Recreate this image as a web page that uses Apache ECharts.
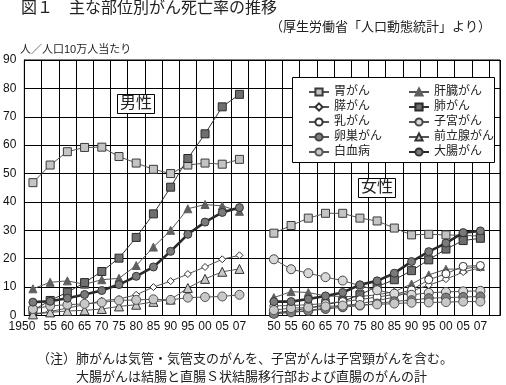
<!DOCTYPE html>
<html><head><meta charset="utf-8">
<script src="https://cdn.jsdelivr.net/npm/echarts@6/dist/echarts.min.js"></script>
<style>html,body{margin:0;padding:0;background:#fff}#c{width:506px;height:385px}</style>
</head><body><div id="c"></div>
<script>
// ---- data ----
const maleYears = ['1950','55','60','65','70','75','80','85','90','95','00','05','07'];
const femaleYears = ['50','55','60','65','70','75','80','85','90','95','00','05','07'];
const yMin = 0, yMax = 90, yStep = 10;

const maleStomach    = [46.8,53.0,57.7,59.2,59.3,56.0,53.7,51.5,50.0,53.0,53.7,53.3,55.0];
const maleLiver      = [9.4,11.7,12.2,11.0,12.6,13.1,17.6,24.1,30.0,37.6,39.1,38.6,36.7];
const malePancreas   = [0.5,1.4,2.6,3.8,5.2,5.8,7.3,10.0,12.1,14.6,17.1,19.8,21.2];
const maleLung       = [1.8,5.3,8.2,11.6,15.5,20.2,27.5,35.8,45.2,55.3,64.0,73.5,77.9];
const maleProstate   = [0.4,1.1,1.6,1.8,2.3,3.2,3.8,4.8,5.6,9.7,12.9,15.4,16.4];
const maleLeukemia   = [2.3,3.4,3.8,4.1,4.6,5.3,5.5,5.7,5.5,6.3,6.5,6.7,7.3];
const maleColorectal = [4.7,5.0,6.1,7.4,8.8,10.9,13.8,17.1,22.6,28.6,32.9,36.3,38.0];

const femaleStomach    = [29.0,31.7,34.3,36.0,36.0,34.3,33.3,30.8,28.4,28.6,28.4,28.2,28.0];
const femaleLiver      = [6.3,8.4,8.1,6.9,6.7,6.7,7.3,8.4,11.1,14.3,16.3,16.4,17.3];
const femalePancreas   = [0.6,1.2,1.8,2.6,3.4,4.2,5.2,6.5,8.6,10.7,12.8,15.3,16.8];
const femaleLung       = [0.9,1.6,2.6,3.8,5.0,7.3,10.2,12.6,15.8,19.6,23.4,26.4,27.2];
const femaleBreast     = [3.4,3.5,3.8,4.2,4.9,5.6,6.5,7.4,9.0,12.6,14.7,17.3,17.6];
const femaleUterus     = [19.8,16.3,14.9,13.5,12.3,10.5,8.9,7.7,7.3,8.0,8.3,8.5,8.7];
const femaleOvary      = [0.6,1.1,1.6,2.3,2.9,3.5,4.2,5.0,5.4,6.1,6.3,6.5,6.7];
const femaleLeukemia   = [1.9,2.6,2.8,3.2,3.5,3.7,3.9,4.2,4.5,4.6,4.7,4.9,4.9];
const femaleColorectal = [4.9,4.9,5.8,6.9,8.1,10.8,12.2,14.9,19.0,22.5,25.5,29.2,29.8];

const none = null;

// ---- build ----
const FONT = "'Liberation Sans','Noto Sans CJK JP',sans-serif";
const nMale = maleYears.length;
const femaleOffset = nMale + 1;
const nTotal = femaleOffset + femaleYears.length;
const xMax = 27.64; // plot extends a little beyond the last band

function build(m, f) {
  const out = [];
  for (let i = 0; i < nMale; i++) out.push([i + 0.5, m ? m[i] : '-']);
  out.push([nMale + 0.5, '-']);
  for (let i = 0; i < femaleYears.length; i++) out.push([femaleOffset + i + 0.5, f ? f[i] : '-']);
  return out;
}

const defs = [
  {name:'胃がん', m:maleStomach, f:femaleStomach, symbol:'rect', size:8, fill:'#c4c4c4', border:'#3a3a3a', line:'#555', lw:1},
  {name:'肝臓がん', m:maleLiver, f:femaleLiver, symbol:'triangle', size:8, fill:'#5f5f5f', border:'#5f5f5f', line:'#555', lw:1},
  {name:'膵がん', m:malePancreas, f:femalePancreas, symbol:'diamond', size:7, fill:'#ffffff', border:'#333', line:'#555', lw:1},
  {name:'肺がん', m:maleLung, f:femaleLung, symbol:'rect', size:8, fill:'#6e6e6e', border:'#2a2a2a', line:'#333', lw:1},
  {name:'乳がん', m:none, f:femaleBreast, symbol:'circle', size:8, fill:'#ffffff', border:'#333', line:'#555', lw:1},
  {name:'子宮がん', m:none, f:femaleUterus, symbol:'circle', size:9, fill:'#d8d8d8', border:'#444', line:'#555', lw:1},
  {name:'卵巣がん', m:none, f:femaleOvary, symbol:'circle', size:9, fill:'#7f7f7f', border:'#444', line:'#555', lw:1},
  {name:'前立腺がん', m:maleProstate, f:none, symbol:'triangle', size:9, fill:'#c8c8c8', border:'#333', line:'#555', lw:1},
  {name:'白血病', m:maleLeukemia, f:femaleLeukemia, symbol:'circle', size:9, fill:'#c8c8c8', border:'#555', line:'#555', lw:1},
  {name:'大腸がん', m:maleColorectal, f:femaleColorectal, symbol:'circle', size:8, fill:'#7a7a7a', border:'#333', line:'#2a2a2a', lw:2.6}
];

const series = defs.map(d => ({
  name: d.name, type: 'line', xAxisIndex: 0, data: build(d.m, d.f),
  symbol: d.symbol, symbolSize: d.size, showSymbol: true, connectNulls: false,
  lineStyle: {color: d.line, width: d.lw},
  itemStyle: {color: d.fill, borderColor: d.border, borderWidth: 1},
  emphasis: {disabled: true}, z: d.name === '大腸がん' ? 3 : 2
}));

const labelPos = [];
for (let i = 0; i < nMale; i++) labelPos.push(i + 0.5);
for (let i = 0; i < femaleYears.length; i++) labelPos.push(femaleOffset + i + 0.5);

const legendText = {fontFamily: FONT, fontSize: 12, color: '#222'};

const option = {
  animation: false,
  backgroundColor: '#fff',
  title: [
    {text:'図１　主な部位別がん死亡率の推移', left:21, top:1, padding:0, textStyle:{fontFamily:FONT, fontSize:16, fontWeight:'normal', color:'#222'}},
    {text:'（厚生労働省「人口動態統計」より）', left:270, top:21, padding:0, textStyle:{fontFamily:FONT, fontSize:13, fontWeight:'normal', color:'#222'}},
    {text:'人／人口10万人当たり', left:20, top:44, padding:0, textStyle:{fontFamily:FONT, fontSize:11, fontWeight:'normal', color:'#222'}},
    {text:'男性', left:117, top:94, padding:[1,3], borderWidth:1, borderColor:'#000', backgroundColor:'#fff', textStyle:{fontFamily:FONT, fontSize:16, fontWeight:'normal', color:'#222', lineHeight:18}},
    {text:'女性', left:358, top:178, padding:[1,3], borderWidth:1, borderColor:'#000', backgroundColor:'#fff', textStyle:{fontFamily:FONT, fontSize:16, fontWeight:'normal', color:'#222', lineHeight:18}},
    {text:'（注）肺がんは気管・気管支のがんを、子宮がんは子宮頸がんを含む。', left:37, top:353, padding:0, textStyle:{fontFamily:FONT, fontSize:13, fontWeight:'normal', color:'#222'}},
    {text:'大腸がんは結腸と直腸Ｓ状結腸移行部および直腸のがんの計', left:76, top:371, padding:0, textStyle:{fontFamily:FONT, fontSize:13, fontWeight:'normal', color:'#222'}}
  ],
  graphic: [
    {type:'rect', left:292, top:77, z:3, shape:{x:0.5, y:0.5, width:202, height:85}, style:{fill:'#fff', stroke:'#000', lineWidth:1}}
  ],
  legend: [
    {orient:'vertical', left:303, top:81, itemGap:3, itemWidth:20, itemHeight:9, textStyle:legendText,
     data:['胃がん','膵がん','乳がん','卵巣がん','白血病'], selectedMode:false},
    {orient:'vertical', left:403, top:81, itemGap:3, itemWidth:20, itemHeight:9, textStyle:legendText,
     data:['肝臓がん','肺がん','子宮がん','前立腺がん','大腸がん'], selectedMode:false}
  ],
  grid: {left:23, right:6, top:60, bottom:69.5, show:true, borderColor:'#000', borderWidth:1, backgroundColor:'transparent'},
  xAxis: [
    {
      type:'value', min:0, max:xMax, interval:1,
      axisLine:{show:true, lineStyle:{color:'#000', width:1}},
      axisTick:{show:false},
      splitLine:{show:true, lineStyle:{color:'#000', width:1}},
      axisLabel:{show:false}
    },
    {
      type:'value', min:0, max:xMax, position:'bottom',
      axisLine:{show:false}, axisTick:{show:false}, splitLine:{show:false},
      axisLabel:{
        customValues: labelPos, margin:5, fontFamily:FONT, fontSize:12, color:'#111',
        formatter: v => {
          const i = Math.floor(v);
          if (i < nMale) return i === 0 ? '{a|' + maleYears[0] + '}' : maleYears[i];
          return femaleYears[i - femaleOffset];
        },
        rich: {a: {fontFamily:FONT, fontSize:12, color:'#111', padding:[0,22,0,0]}}
      }
    }
  ],
  yAxis: {
    type:'value', min:yMin, max:yMax, interval:yStep,
    axisLine:{show:true, lineStyle:{color:'#000'}},
    axisTick:{show:false},
    splitLine:{show:true, lineStyle:{color:'#000', width:1}},
    axisLabel:{margin:8, fontFamily:FONT, fontSize:12, color:'#111'}
  },
  series: series
};

const chart = echarts.init(document.getElementById('c'), null, {renderer:'canvas'});
chart.setOption(option);
</script>
</body></html>
